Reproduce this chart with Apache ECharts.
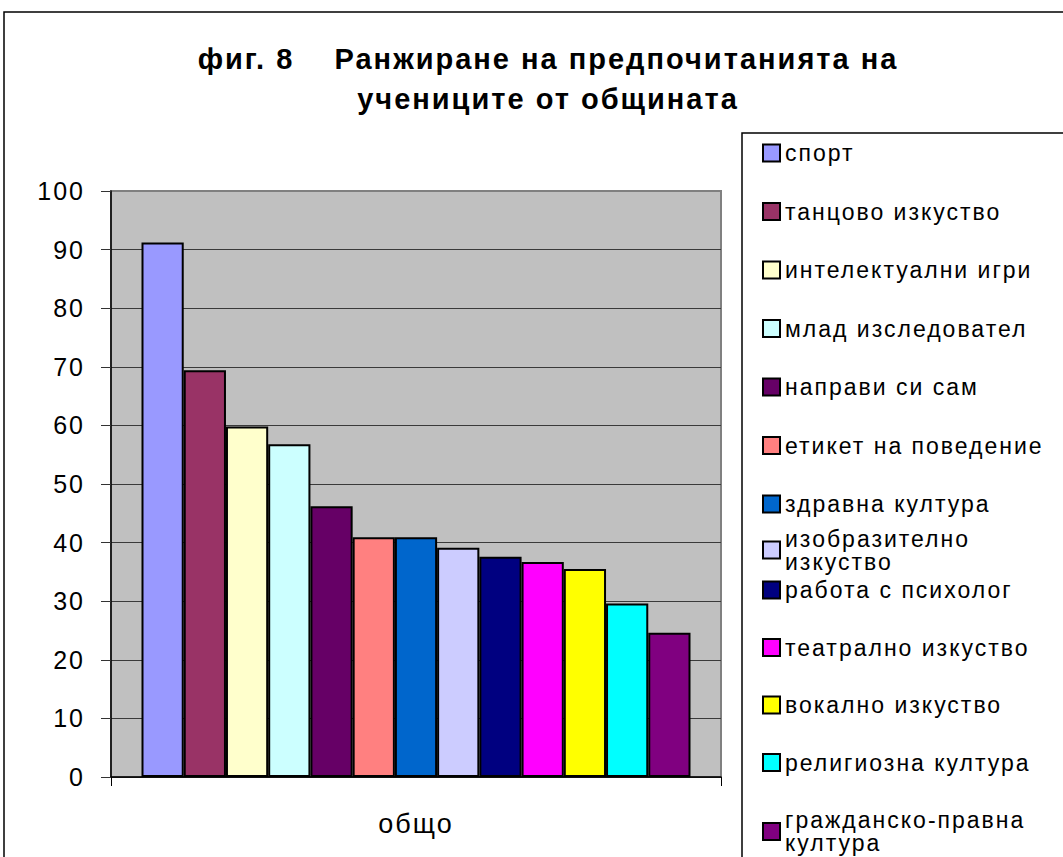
<!DOCTYPE html>
<html>
<head>
<meta charset="utf-8">
<script src="https://cdn.jsdelivr.net/npm/echarts@6/dist/echarts.min.js"></script>
<style>
  html, body { margin: 0; padding: 0; background: #fff; }
  #chart { width: 1063px; height: 857px; }
  /* excel-like wide letter spacing */
  #chart text { letter-spacing: 2px; white-space: pre; }
</style>
</head>
<body>
<div id="chart"></div>
<script>
const categories = ['общо'];
const seriesNames = [
  'спорт', 'танцово изкуство', 'интелектуални игри', 'млад изследовател',
  'направи си сам', 'етикет на поведение', 'здравна култура', 'изобразително изкуство',
  'работа с психолог', 'театрално изкуство', 'вокално изкуство', 'религиозна култура',
  'гражданско-правна култура'
];
const seriesValues = [91.2, 69.4, 59.8, 56.8, 46.2, 40.9, 40.9, 39.1, 37.6, 36.7, 35.5, 29.6, 24.6];
const yTicks = [0, 10, 20, 30, 40, 50, 60, 70, 80, 90, 100];

const palette = ['#9999FF', '#993366', '#FFFFCC', '#CCFFFF', '#660066', '#FF8080', '#0066CC',
  '#CCCCFF', '#000080', '#FF00FF', '#FFFF00', '#00FFFF', '#800080'];

const font = 'Liberation Sans, Arial, sans-serif';

// long legend names break in two lines like in excel
const wrapped = {
  'изобразително изкуство': 'изобразително\nизкуство',
  'гражданско-правна култура': 'гражданско-правна\nкултура'
};

// legend is split in 3 blocks so the wrapped entries sit like excel puts them
function legendBlock(names, top, height, gap) {
  return {
    orient: 'vertical',
    left: 762,
    top: top,
    height: height,
    padding: 0,
    data: names,
    icon: 'rect',
    itemWidth: 17,
    itemHeight: 17,
    itemGap: gap,
    selectedMode: false,
    itemStyle: { borderColor: '#000', borderWidth: 2 },
    formatter: name => wrapped[name] || name,
    textStyle: { fontFamily: font, fontSize: 23, lineHeight: 23, color: '#000' }
  };
}

const chart = echarts.init(document.getElementById('chart'), null, { renderer: 'svg' });

const option = {
  animation: false,
  backgroundColor: '#fff',
  color: palette,
  title: {
    text: 'фиг. 8    Ранжиране на предпочитанията на\nучениците от общината',
    left: 543,
    top: 34,
    textAlign: 'center',
    textStyle: { fontFamily: font, fontSize: 29, fontWeight: 'bold', lineHeight: 40, color: '#000' }
  },
  legend: [
    legendBlock(seriesNames.slice(0, 7), 141.5, 420, 35.5),
    legendBlock(seriesNames.slice(7, 8), 527, 60, 35.5),
    legendBlock(seriesNames.slice(8), 578.5, 320, 34.5)
  ],
  grid: {
    left: 111,
    right: 342,
    top: 191,
    bottom: 80,
    show: true,
    backgroundColor: '#C0C0C0',
    borderColor: '#808080',
    borderWidth: 2
  },
  xAxis: {
    type: 'category',
    data: categories,
    axisLine: { lineStyle: { color: '#000', width: 1.5 } },
    axisTick: { show: true, length: 9, lineStyle: { color: '#000' } },
    axisLabel: { margin: 33, fontFamily: font, fontSize: 27, color: '#000' }
  },
  yAxis: {
    type: 'value',
    min: 0,
    max: 100,
    interval: 10,
    axisLine: { show: true, lineStyle: { color: '#000', width: 1.5 } },
    axisTick: { show: true, length: 10, lineStyle: { color: '#333' } },
    splitLine: { show: true, showMaxLine: false, lineStyle: { color: '#3a3a3a', width: 1.2 } },
    axisLabel: {
      margin: 26,
      fontFamily: font,
      fontSize: 25,
      color: '#000',
      formatter: v => (yTicks.indexOf(v) >= 0 ? String(v) : '')
    }
  },
  series: seriesNames.map((name, i) => ({
    name: name,
    type: 'bar',
    data: [seriesValues[i]],
    barGap: '0%',
    barCategoryGap: '10%',
    itemStyle: { borderColor: '#000', borderWidth: 2 }
  })),
  graphic: [
    {
      type: 'rect',
      shape: { x: 4, y: 12, width: 1200, height: 1000 },
      style: { fill: 'none', stroke: '#000', lineWidth: 1.5 },
      silent: true
    },
    {
      type: 'rect',
      shape: { x: 742, y: 133, width: 500, height: 900 },
      style: { fill: 'none', stroke: '#000', lineWidth: 1.5 },
      silent: true
    }
  ]
};

chart.setOption(option);
</script>
</body>
</html>
